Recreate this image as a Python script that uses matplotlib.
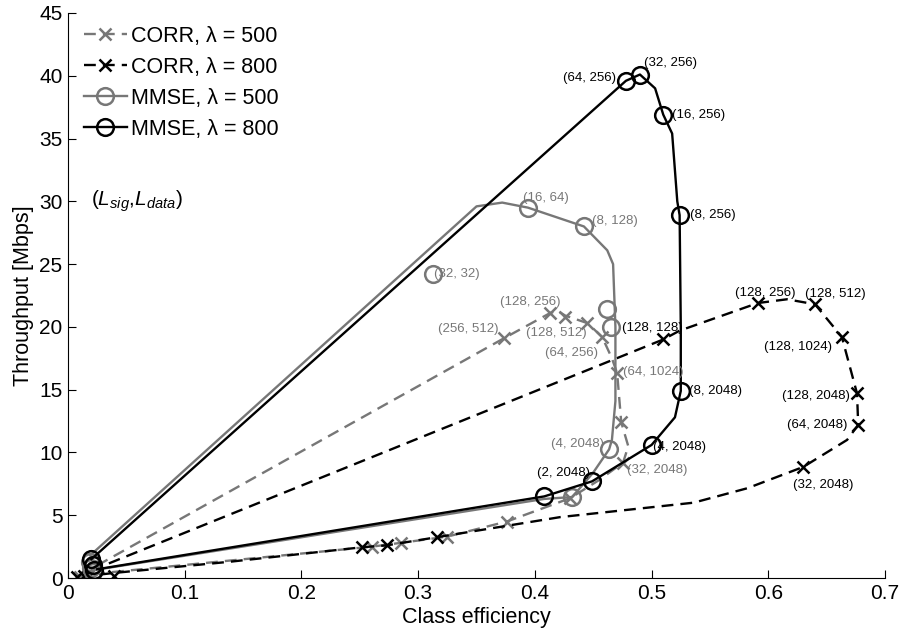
import matplotlib
matplotlib.use('Agg')
import matplotlib.pyplot as plt
from matplotlib.lines import Line2D

plt.rcParams['font.family'] = ['Liberation Sans', 'DejaVu Sans']
plt.rcParams['mathtext.fontset'] = 'custom'
plt.rcParams['mathtext.rm'] = 'Liberation Sans'
plt.rcParams['mathtext.it'] = 'Liberation Sans:italic'

GRAY = '#777777'
BLACK = 'black'

# ---- CORR, lambda = 500 (dashed gray, x markers) ----
corr500_line_x = [0.025, 0.3736, 0.413, 0.419, 0.426, 0.445, 0.4576, 0.466, 0.4705, 0.474,
                  0.480, 0.4756, 0.455, 0.430, 0.376, 0.325, 0.285, 0.2605, 0.030]
corr500_line_y = [1.0, 19.1, 21.1, 21.3, 20.9, 20.3, 19.2, 17.5, 16.3, 12.4,
                  10.5, 9.2, 7.8, 6.35, 4.5, 3.3, 2.8, 2.5, 0.4]
corr500_mark_x = [0.3736, 0.413, 0.426, 0.445, 0.4576, 0.4705, 0.474, 0.4756,
                  0.430, 0.376, 0.325, 0.285, 0.2605, 0.010, 0.018]
corr500_mark_y = [19.1, 21.1, 20.8, 20.3, 19.2, 16.3, 12.4, 9.2,
                  6.35, 4.5, 3.3, 2.8, 2.5, 0.1, 0.25]

# ---- CORR, lambda = 800 (dashed black, x markers) ----
corr800_line_x = [0.020, 0.510, 0.524, 0.591, 0.616, 0.640, 0.663, 0.676, 0.677, 0.6675,
                  0.630, 0.582, 0.536, 0.4216, 0.316, 0.273, 0.252, 0.139, 0.039, 0.020]
corr800_line_y = [0.6, 19.0, 19.7, 21.9, 22.2, 21.8, 19.2, 14.7, 12.2, 11.0,
                  8.85, 7.15, 6.0, 4.85, 3.25, 2.6, 2.45, 1.3, 0.4, 0.2]
corr800_mark_x = [0.510, 0.591, 0.640, 0.663, 0.676, 0.677, 0.630,
                  0.316, 0.273, 0.252, 0.039, 0.008, 0.014]
corr800_mark_y = [19.0, 21.9, 21.8, 19.2, 14.7, 12.2, 8.85,
                  3.25, 2.6, 2.45, 0.2, 0.1, 0.15]

# ---- MMSE, lambda = 500 (solid gray, circles) ----
mmse500_line_x = [0.019, 0.350, 0.372, 0.394, 0.442, 0.462, 0.467, 0.469, 0.469,
                  0.466, 0.4636, 0.450, 0.432, 0.408, 0.020]
mmse500_line_y = [1.8, 29.6, 29.9, 29.5, 28.0, 26.1, 25.0, 20.0, 14.1,
                  11.0, 10.25, 8.4, 6.45, 6.3, 0.6]
mmse500_mark_x = [0.394, 0.442, 0.313, 0.462, 0.465, 0.4636, 0.432, 0.019, 0.020, 0.021]
mmse500_mark_y = [29.5, 28.0, 24.2, 21.4, 20.0, 10.25, 6.45, 1.3, 0.8, 0.5]

# ---- MMSE, lambda = 800 (solid black, circles) ----
mmse800_line_x = [0.020, 0.478, 0.490, 0.503, 0.510, 0.5176, 0.522, 0.524, 0.525, 0.525,
                  0.520, 0.500, 0.449, 0.408, 0.025]
mmse800_line_y = [1.5, 39.6, 40.1, 39.0, 36.9, 35.4, 30.0, 28.9, 20.0, 14.9,
                  12.8, 10.6, 7.7, 6.5, 0.7]
mmse800_mark_x = [0.478, 0.490, 0.510, 0.524, 0.525, 0.500, 0.449, 0.408, 0.020, 0.021, 0.022]
mmse800_mark_y = [39.6, 40.1, 36.9, 28.9, 14.9, 10.6, 7.7, 6.5, 1.5, 1.0, 0.6]

# (L_sig, L_data) labels: text, x, y (left-aligned unless noted)
black_labels = ['(32, 256)', '(16, 256)', '(8, 256)', '(128, 128)', '(8, 2048)',
                '(4, 2048)', '(2, 2048)', '(128, 256)', '(128, 512)', '(128, 1024)',
                '(128, 2048)', '(64, 2048)', '(32, 2048)']
black_label_x = [0.4936, 0.5176, 0.533, 0.4747, 0.532, 0.501, 0.402, 0.5716, 0.6315,
                 0.596, 0.612, 0.616, 0.621]
black_label_y = [41.0, 36.9, 28.9, 19.95, 14.9, 10.4, 8.35, 22.7, 22.6, 18.4, 14.5, 12.2, 7.4]

gray_labels = ['(16, 64)', '(8, 128)', '(32, 32)', '(128, 256)', '(256, 512)',
               '(128, 512)', '(64, 256)', '(64, 1024)', '(4, 2048)', '(32, 2048)']
gray_label_x = [0.390, 0.449, 0.3136, 0.370, 0.317, 0.3925, 0.4087, 0.4756, 0.4139, 0.479]
gray_label_y = [30.3, 28.4, 24.2, 22.0, 19.8, 19.5, 17.9, 16.4, 10.7, 8.6]

fig = plt.figure(figsize=(9.02, 6.34), dpi=100)
ax = fig.add_axes([0.0754, 0.0883, 0.9058, 0.8912])

lw = 1.7
dash = (5, 3)
ax.plot(corr500_line_x, corr500_line_y, '--', color=GRAY, lw=lw, dashes=dash)
ax.plot(corr500_mark_x, corr500_mark_y, 'x', color=GRAY, ms=9, mew=1.8)
ax.plot(corr800_line_x, corr800_line_y, '--', color=BLACK, lw=lw, dashes=dash)
ax.plot(corr800_mark_x, corr800_mark_y, 'x', color=BLACK, ms=9, mew=1.8)
ax.plot(mmse500_line_x, mmse500_line_y, '-', color=GRAY, lw=lw)
ax.plot(mmse500_mark_x, mmse500_mark_y, 'o', color=GRAY, ms=12, mew=1.8, mfc='none')
ax.plot(mmse800_line_x, mmse800_line_y, '-', color=BLACK, lw=lw)
ax.plot(mmse800_mark_x, mmse800_mark_y, 'o', color=BLACK, ms=12, mew=1.8, mfc='none')

lab_fs = 9.5
for t, x, y in zip(black_labels, black_label_x, black_label_y):
    ax.text(x, y, t, color=BLACK, fontsize=lab_fs, va='center', ha='left')
ax.text(0.4696, 39.8, '(64, 256)', color=BLACK, fontsize=lab_fs, va='center', ha='right')
for t, x, y in zip(gray_labels, gray_label_x, gray_label_y):
    ax.text(x, y, t, color=GRAY, fontsize=lab_fs, va='center', ha='left')

ax.text(0.020, 30.0, r'$(L_{sig}{,}L_{data})$', fontsize=15, va='center', ha='left')

handles = [
    Line2D([], [], ls='--', color=GRAY, lw=lw, dashes=dash, marker='x', ms=9, mew=1.8),
    Line2D([], [], ls='--', color=BLACK, lw=lw, dashes=dash, marker='x', ms=9, mew=1.8),
    Line2D([], [], ls='-', color=GRAY, lw=lw, marker='o', ms=12, mew=1.8, mfc='none'),
    Line2D([], [], ls='-', color=BLACK, lw=lw, marker='o', ms=12, mew=1.8, mfc='none'),
]
names = ['CORR, λ = 500', 'CORR, λ = 800', 'MMSE, λ = 500', 'MMSE, λ = 800']
ax.legend(handles, names, loc='upper left', bbox_to_anchor=(0.019, 0.977), frameon=False,
          fontsize=15.5, handlelength=2.0, handletextpad=0.2, labelspacing=0.46,
          borderpad=0, borderaxespad=0, numpoints=1)

ax.set_xlim(0, 0.7)
ax.set_ylim(0, 45)
ax.set_xticks([0, 0.1, 0.2, 0.3, 0.4, 0.5, 0.6, 0.7])
ax.set_xticklabels(['0', '0.1', '0.2', '0.3', '0.4', '0.5', '0.6', '0.7'])
ax.set_yticks(range(0, 46, 5))
ax.tick_params(direction='in', length=5.5, width=0.8, labelsize=15, pad=4)
ax.spines['top'].set_visible(False)
ax.spines['right'].set_visible(False)
for s in ('left', 'bottom'):
    ax.spines[s].set_linewidth(0.8)
ax.set_xlabel('Class efficiency', fontsize=15.5, labelpad=3)
ax.set_ylabel('Throughput [Mbps]', fontsize=15.5, labelpad=4)

fig.savefig('out.png', dpi=100)
